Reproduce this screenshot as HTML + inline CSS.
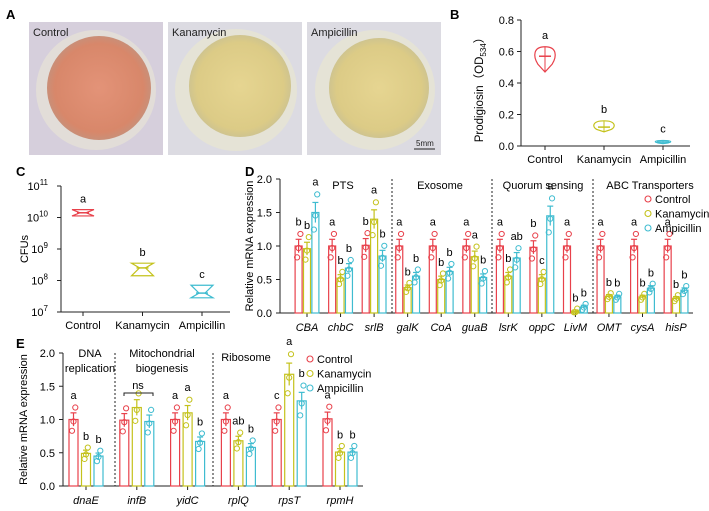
<!DOCTYPE html>
<html><head><meta charset="utf-8">
<style>
body{margin:0;background:#fff;}
svg{display:block;font-family:"Liberation Sans",Arial,sans-serif;}
</style></head>
<body>
<svg id="fig" width="709" height="511" viewBox="0 0 709 511" xmlns="http://www.w3.org/2000/svg">
<defs>
<radialGradient id="gRed" cx="50%" cy="50%" r="50%"><stop offset="0" stop-color="#e39378"/><stop offset="0.85" stop-color="#d8876a"/><stop offset="1" stop-color="#c98f78"/></radialGradient>
<radialGradient id="gYel" cx="50%" cy="50%" r="50%"><stop offset="0" stop-color="#e6d591"/><stop offset="0.85" stop-color="#dccb86"/><stop offset="1" stop-color="#cfc48f"/></radialGradient>
</defs>
<g id="panelA">
<text x="6" y="19" font-size="13" font-weight="bold">A</text>
<g>
<rect x="29" y="22" width="134" height="133" fill="#d6cfdc"/>
<circle cx="96" cy="90" r="60" fill="#e2ddd8"/>
<circle cx="99" cy="88" r="52" fill="url(#gRed)"/>
<text x="33" y="36" font-size="11" fill="#222">Control</text>
</g>
<g>
<rect x="168" y="22" width="134" height="133" fill="#dcdbe2"/>
<circle cx="236" cy="90" r="61" fill="#e5e3d6"/>
<circle cx="240" cy="86" r="51" fill="url(#gYel)"/>
<text x="172" y="36" font-size="11" fill="#222">Kanamycin</text>
</g>
<g>
<rect x="307" y="22" width="134" height="133" fill="#dcdbe2"/>
<circle cx="375" cy="90" r="60" fill="#e5e3d6"/>
<circle cx="379" cy="88" r="50" fill="url(#gYel)"/>
<text x="311" y="36" font-size="11" fill="#222">Ampicillin</text>
<text x="416" y="146" font-size="8" fill="#222">5mm</text>
<line x1="414" y1="149" x2="435" y2="149" stroke="#222" stroke-width="1"/>
</g>
</g>
<g id="panelB"></g>
<g id="panelC"></g>
<g id="panelD"></g>
<g id="panelE"></g>
</svg>
<script>
// ---------- data ----------
const groups3 = ["Control","Kanamycin","Ampicillin"];
const colors = ["#e8414b","#c4c21c","#3fbcd0"];
// Panel B
const bTicks = [0.0,0.2,0.4,0.6,0.8];
const bMean = [0.57,0.12,0.025];
const bMin = [0.47,0.09,0.015];
const bMax = [0.63,0.16,0.035];
const bLetters = ["a","b","c"];
// Panel C (log10 of CFUs)
const cTicks = [7,8,9,10,11];
const cMean = [10.15,8.4,7.6];
const cMin = [10.05,8.15,7.45];
const cMax = [10.25,8.55,7.85];
const cLetters = ["a","b","c"];
// Panel D
const dGenes = ["CBA","chbC","srlB","galK","CoA","guaB","lsrK","oppC","LivM","OMT","cysA","hisP"];
const dControl = [1.0,1.0,1.01,1.0,1.0,1.0,1.0,0.98,1.0,1.0,1.0,1.0];
const dKana = [0.96,0.52,1.4,0.38,0.5,0.84,0.55,0.52,0.02,0.25,0.24,0.22];
const dAmp = [1.5,0.67,0.85,0.55,0.62,0.53,0.82,1.45,0.09,0.24,0.37,0.34];
const dLetC = ["b","a","b","a","a","a","a","b","a","a","a","a"];
const dLetK = ["b","b","a","b","b","a","b","c","b","b","b","b"];
const dLetA = ["a","b","b","b","b","b","ab","a","b","b","b","b"];
const dSections = ["PTS","Exosome","Quorum sensing","ABC Transporters"];
const yTicks = [0.0,0.5,1.0,1.5,2.0];
// Panel E
const eGenes = ["dnaE","infB","yidC","rplQ","rpsT","rpmH"];
const eControl = [1.0,0.99,1.0,1.0,1.0,1.01];
const eKana = [0.49,1.18,1.1,0.68,1.68,0.51];
const eAmp = [0.45,0.97,0.67,0.58,1.28,0.51];
const eLetC = ["a","","a","a","c","a"];
const eLetK = ["b","","a","ab","a","b"];
const eLetA = ["b","","b","b","b","b"];

const NS="http://www.w3.org/2000/svg";
function mk(parent,tag,attrs,txt){const e=document.createElementNS(NS,tag);for(const k in attrs)e.setAttribute(k,attrs[k]);if(txt!==undefined)e.textContent=txt;parent.appendChild(e);return e;}
const C="#222";

// ---------- Panel B ----------
(function(){
const g=document.getElementById('panelB');
const x0=521,x1=690,y0=146,y1=20;
const ys=v=>y0-(v/0.8)*(y0-y1);
const xs=i=>545+i*59;
let t=mk(g,'text',{x:450,y:19,'font-size':13,'font-weight':'bold'},'B');


let l=mk(g,'line',{x1:x0,y1:y1,x2:x0,y2:y0,stroke:C});


l=mk(g,'line',{x1:x0,y1:y0,x2:x1,y2:y0,stroke:C});


bTicks.forEach(v=>{mk(g,'line',{x1:x0-4,x2:x0,y1:ys(v),y2:ys(v),stroke:C});
 t=mk(g,'text',{x:x0-7,y:ys(v)+4,'font-size':11,'text-anchor':'end'},v.toFixed(1));
 
 });
groups3.forEach((n,i)=>{const x=xs(i);mk(g,'line',{x1:x,x2:x,y1:y0,y2:y0+4,stroke:C});
 t=mk(g,'text',{x:x,y:y0+17,'font-size':11,'text-anchor':'middle'},n);
 
 
 const w=i==2?9:12;const top=ys(bMax[i]),bot=ys(bMin[i]),mid=ys(bMean[i]);
 const p=mk(g,'path',{d:`M${x} ${top} C${x+w} ${top},${x+w} ${mid},${x+w*0.6} ${(mid+bot)/2} L${x} ${bot} L${x-w*0.6} ${(mid+bot)/2} C${x-w} ${mid},${x-w} ${top},${x} ${top}Z`,fill:'none',stroke:colors[i],'stroke-width':1.2});
 
 
 mk(g,'line',{x1:x-6,x2:x+6,y1:mid,y2:mid,stroke:colors[i],'stroke-width':1.5});
 mk(g,'line',{x1:x,x2:x,y1:top,y2:bot,stroke:colors[i],'stroke-width':1});
 t=mk(g,'text',{x:x,y:top-8,'font-size':11,'text-anchor':'middle'},bLetters[i]);
 
 });
const yl=mk(g,'text',{transform:`translate(${x0-38},${(y0+y1)/2+4}) rotate(-90)`,'font-size':11.5,'text-anchor':'middle'});
yl.innerHTML='Prodigiosin（OD<tspan font-size="8" dy="3">534</tspan><tspan dy="-3">）</tspan>';


})();

// ---------- Panel C ----------
(function(){
const g=document.getElementById('panelC');
const x0=61,x1=230,y0=312,y1=186;
const ys=v=>y0-(v-7)/4*(y0-y1);
const xs=i=>83+i*59.5;
let t=mk(g,'text',{x:16,y:176,'font-size':13,'font-weight':'bold'},'C');


let l=mk(g,'line',{x1:x0,y1:y1,x2:x0,y2:y0,stroke:C});


l=mk(g,'line',{x1:x0,y1:y0,x2:x1,y2:y0,stroke:C});


cTicks.forEach(v=>{mk(g,'line',{x1:x0-4,x2:x0,y1:ys(v),y2:ys(v),stroke:C});
 t=mk(g,'text',{x:x0-13,y:ys(v)+4,'font-size':11,'text-anchor':'end'});
 t.innerHTML='10<tspan font-size="8" dy="-5">'+v+'</tspan>';
 
 });
groups3.forEach((n,i)=>{const x=xs(i);mk(g,'line',{x1:x,x2:x,y1:y0,y2:y0+4,stroke:C});
 t=mk(g,'text',{x:x,y:y0+17,'font-size':11,'text-anchor':'middle'},n);
 
 
 const top=ys(cMax[i]),bot=ys(cMin[i]),mid=ys(cMean[i]);const w=11;
 const p=mk(g,'path',{d:`M${x-w} ${top} L${x+w} ${top} L${x+3} ${mid} L${x+w} ${bot} L${x-w} ${bot} L${x-3} ${mid}Z`,fill:'none',stroke:colors[i],'stroke-width':1.2});
 
 
 mk(g,'line',{x1:x-6,x2:x+6,y1:mid,y2:mid,stroke:colors[i],'stroke-width':1.5});
 t=mk(g,'text',{x:x,y:top-7,'font-size':11,'text-anchor':'middle'},cLetters[i]);
 
 });
t=mk(g,'text',{transform:`translate(${x0-33},${(y0+y1)/2}) rotate(-90)`,'font-size':11,'text-anchor':'middle'},'CFUs');


})();

// ---------- bar panel helper ----------
function barPanel(g,cfg,genes,series,letters){
 const {x0,x1,y0,y1,gx0,gstep,bstep,bw,tx}=cfg;
 const ys=v=>y0-(v/2)*(y0-y1);
 let l=mk(g,'line',{x1:x0,y1:y1,x2:x0,y2:y0,stroke:C});
 
 
 l=mk(g,'line',{x1:x0,y1:y0,x2:x1,y2:y0,stroke:C});
 
 
 yTicks.forEach(v=>{mk(g,'line',{x1:x0-4,x2:x0,y1:ys(v),y2:ys(v),stroke:C});
  const t=mk(g,'text',{x:x0-8,y:ys(v)+4,'font-size':11,'text-anchor':'end'},v.toFixed(1));
  
  });
 genes.forEach((gn,i)=>{const cx=gx0+i*gstep;
  mk(g,'line',{x1:cx,x2:cx,y1:y0,y2:y0+4,stroke:C});
  const t=mk(g,'text',{x:cx,y:y0+18,'font-size':11,'font-style':'italic','text-anchor':'middle'},gn);
  
  
  series.forEach((s,k)=>{const v=s[i];const bx=cx+(k-1)*bstep;const yt=ys(v);
   const r=mk(g,'rect',{x:bx-bw/2,y:yt,width:bw,height:y0-yt,fill:'#fff',stroke:colors[k],'stroke-width':1.2});
   
   
   const sp=Math.max(v,0.25);
   const e=0.1*sp;
   mk(g,'line',{x1:bx,x2:bx,y1:ys(v+e),y2:ys(Math.max(v-e,0)),stroke:colors[k],'stroke-width':1.2});
   mk(g,'line',{x1:bx-3,x2:bx+3,y1:ys(v+e),y2:ys(v+e),stroke:colors[k],'stroke-width':1.2});
   [[-0.17,-1.5],[0.18,1.8],[-0.03,0]].forEach(d=>{
    mk(g,'circle',{cx:bx+d[1],cy:ys(Math.max(v+d[0]*sp,0.01)),r:2.6,fill:'none',stroke:colors[k],'stroke-width':1});});
   const lt=letters[k][i];
   if(lt){const tt=mk(g,'text',{x:bx,y:ys(v+0.2*sp)-7,'font-size':11,'text-anchor':'middle'},lt);
    
    }
  });});
 const yl=mk(g,'text',{transform:`translate(${x0-tx},${(y0+y1)/2}) rotate(-90)`,'font-size':11,'text-anchor':'middle'},'Relative mRNA expression');
 
 
}
function legend(g,x,y){groups3.forEach((n,k)=>{
 mk(g,'circle',{cx:x,cy:y+k*14.5,r:3,fill:'none',stroke:colors[k],'stroke-width':1.1});
 const t=mk(g,'text',{x:x+7,y:y+k*14.5+4,'font-size':11},n);
 
 });}

// ---------- Panel D ----------
(function(){
const g=document.getElementById('panelD');
let t=mk(g,'text',{x:245,y:176,'font-size':13,'font-weight':'bold'},'D');


barPanel(g,{x0:280,x1:693,y0:313,y1:179,gx0:307,gstep:33.55,bstep:8.4,bw:7,tx:27},dGenes,[dControl,dKana,dAmp],[dLetC,dLetK,dLetA]);
[392,492,593].forEach(x=>{const l=mk(g,'line',{x1:x,x2:x,y1:179,y2:313,stroke:C,'stroke-dasharray':'2,2'});
 
 });
[343,440,543,650].forEach((x,i)=>{t=mk(g,'text',{x:x,y:189,'font-size':11,'text-anchor':'middle'},dSections[i]);
 
 });
legend(g,648,199);
})();

// ---------- Panel E ----------
(function(){
const g=document.getElementById('panelE');
let t=mk(g,'text',{x:16,y:348,'font-size':13,'font-weight':'bold'},'E');


barPanel(g,{x0:63,x1:363,y0:486,y1:353,gx0:86,gstep:50.8,bstep:12.5,bw:9,tx:36},eGenes,[eControl,eKana,eAmp],[eLetC,eLetK,eLetA]);
[115,213].forEach(x=>{const l=mk(g,'line',{x1:x,x2:x,y1:353,y2:486,stroke:C,'stroke-dasharray':'2,2'});
 
 });
[['DNA',90,357],['replication',90,372],['Mitochondrial',162,357],['biogenesis',162,372],['Ribosome',246,361]].forEach(a=>{
 t=mk(g,'text',{x:a[1],y:a[2],'font-size':11,'text-anchor':'middle'},a[0]);
 
 });
const ns=mk(g,'path',{d:'M124 396 L124 393 L153 393 L153 396',fill:'none',stroke:C});


t=mk(g,'text',{x:138,y:389,'font-size':11,'text-anchor':'middle'},'ns');


legend(g,310,359);
})();
</script>
</body></html>
